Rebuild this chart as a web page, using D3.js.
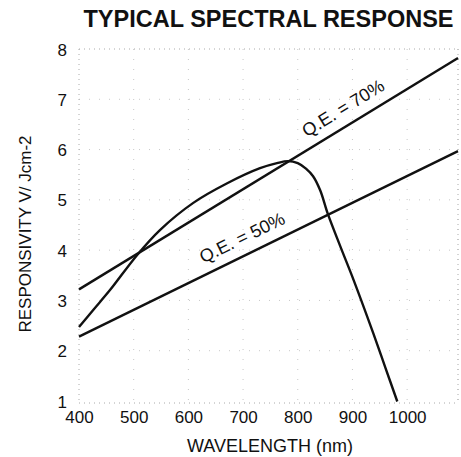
<!DOCTYPE html>
<html>
<head>
<meta charset="utf-8">
<script src="https://cdn.jsdelivr.net/npm/d3@7"></script>
<style>
  html, body { margin: 0; padding: 0; background: #fff; }
  svg { display: block; font-family: "Liberation Sans", Arial, Helvetica, sans-serif; }
</style>
</head>
<body>
<svg id="chart" width="461" height="457"></svg>
<script>
// ---- data ----
const titleText = "TYPICAL SPECTRAL RESPONSE";
const xLabelText = "WAVELENGTH (nm)";
const yLabelText = "RESPONSIVITY V/ Jcm-2";
const xTicks = [400, 500, 600, 700, 800, 900, 1000];
const yTicks = [1, 2, 3, 4, 5, 6, 7, 8];
const xDomain = [400, 1093];
const yDomain = [1, 8];

// measured responsivity curve
const curveWavelength = [400, 426, 457, 506, 548, 609, 671, 731, 762, 782, 800, 815, 828, 841, 855, 878, 902, 938, 960, 982];
const curveResponse   = [2.47, 2.81, 3.21, 3.90, 4.40, 4.94, 5.33, 5.63, 5.73, 5.77, 5.73, 5.62, 5.47, 5.19, 4.72, 4.07, 3.41, 2.35, 1.67, 0.99];

// quantum-efficiency reference lines
const qe70Wavelength = [400, 1093];
const qe70Response   = [3.22, 7.82];
const qe50Wavelength = [400, 1093];
const qe50Response   = [2.28, 5.97];
const qeLabels = ["Q.E. = 70%", "Q.E. = 50%"];
const qeLabelAt = [827, 636];

// ---- chart ----
const svg = d3.select("#chart");
const x = d3.scaleLinear().domain(xDomain).range([79, 458]);
const y = d3.scaleLinear().domain(yDomain).range([401, 49]);

// faint dotted grid (scan look)
const grid = svg.append("g");
grid.selectAll("line.gx").data(xTicks.slice(1).concat([xDomain[1]])).join("line")
  .attr("x1", d => x(d)).attr("x2", d => x(d))
  .attr("y1", y(8)).attr("y2", y(1))
  .attr("stroke", "#c8c8c8").attr("stroke-width", 1)
  .attr("stroke-dasharray", "1,9");
grid.selectAll("line.gy").data(yTicks.slice(1, -1)).join("line")
  .attr("x1", x(400)).attr("x2", x(xDomain[1]))
  .attr("y1", d => y(d)).attr("y2", d => y(d))
  .attr("stroke", "#c8c8c8").attr("stroke-width", 1)
  .attr("stroke-dasharray", "1,9");
// frame dotted
[[x(400), y(8), x(xDomain[1]), y(8)],
 [x(400), y(1) + 2, x(xDomain[1]), y(1) + 2],
 [x(400), y(8), x(400), y(1)],
 [x(xDomain[1]), y(8), x(xDomain[1]), y(1)]].forEach(c => {
  grid.append("line")
    .attr("x1", c[0]).attr("y1", c[1]).attr("x2", c[2]).attr("y2", c[3])
    .attr("stroke", "#aaa").attr("stroke-width", 1)
    .attr("stroke-dasharray", "1,4");
});

// axes (text only, no domain lines)
const xAxis = d3.axisBottom(x).tickValues(xTicks).tickSize(0).tickPadding(0).tickFormat(d3.format("d"));
const gx = svg.append("g").attr("transform", "translate(0,411)").call(xAxis);
gx.select(".domain").remove();
gx.selectAll("text").attr("font-size", 17).attr("fill", "#111").attr("dy", "0.71em")
  .attr("font-family", "'Liberation Sans', Arial, sans-serif");

const yAxis = d3.axisLeft(y).tickValues(yTicks).tickSize(0).tickPadding(0).tickFormat(d3.format("d"));
const gy = svg.append("g").attr("transform", "translate(67,0)").call(yAxis);
gy.select(".domain").remove();
gy.selectAll("text").attr("font-size", 17).attr("fill", "#111").attr("dy", "0.36em")
  .attr("font-family", "'Liberation Sans', Arial, sans-serif");

// lines
const lineGen = d3.line().x(d => x(d[0])).y(d => y(d[1]));
const qe70 = d3.zip(qe70Wavelength, qe70Response);
const qe50 = d3.zip(qe50Wavelength, qe50Response);
svg.append("path").datum(qe70).attr("d", lineGen)
  .attr("fill", "none").attr("stroke", "#111").attr("stroke-width", 2.4);
svg.append("path").datum(qe50).attr("d", lineGen)
  .attr("fill", "none").attr("stroke", "#111").attr("stroke-width", 2.4);

const curvePts = d3.zip(curveWavelength, curveResponse);
svg.append("path").datum(curvePts)
  .attr("d", d3.line().x(d => x(d[0])).y(d => y(d[1])).curve(d3.curveCatmullRom.alpha(0.5)))
  .attr("fill", "none").attr("stroke", "#111").attr("stroke-width", 2.4)
  .attr("stroke-linejoin", "round");

// QE labels along lines
[qe70, qe50].forEach((pts, i) => {
  const lam = qeLabelAt[i];
  const v = pts[0][1] + (pts[1][1] - pts[0][1]) * (lam - pts[0][0]) / (pts[1][0] - pts[0][0]);
  const px = x(lam), py = y(v);
  const ang = Math.atan2(y(pts[1][1]) - y(pts[0][1]), x(pts[1][0]) - x(pts[0][0])) * 180 / Math.PI;
  svg.append("text")
    .attr("transform", `translate(${px},${py}) rotate(${ang})`)
    .attr("y", -11)
    .attr("font-size", 18).attr("fill", "#111")
    .text(qeLabels[i]);
});

// title
svg.append("text").attr("x", 268.5).attr("y", 27)
  .attr("text-anchor", "middle").attr("font-size", 23.5).attr("font-weight", "bold")
  .attr("fill", "#111").text(titleText);

// x label
svg.append("text").attr("x", 270).attr("y", 452)
  .attr("text-anchor", "middle").attr("font-size", 18).attr("fill", "#111")
  .text(xLabelText);

// y label
svg.append("text").attr("transform", "translate(30.5,234) rotate(-90)")
  .attr("text-anchor", "middle").attr("font-size", 17).attr("fill", "#111")
  .text(yLabelText);
</script>
</body>
</html>
